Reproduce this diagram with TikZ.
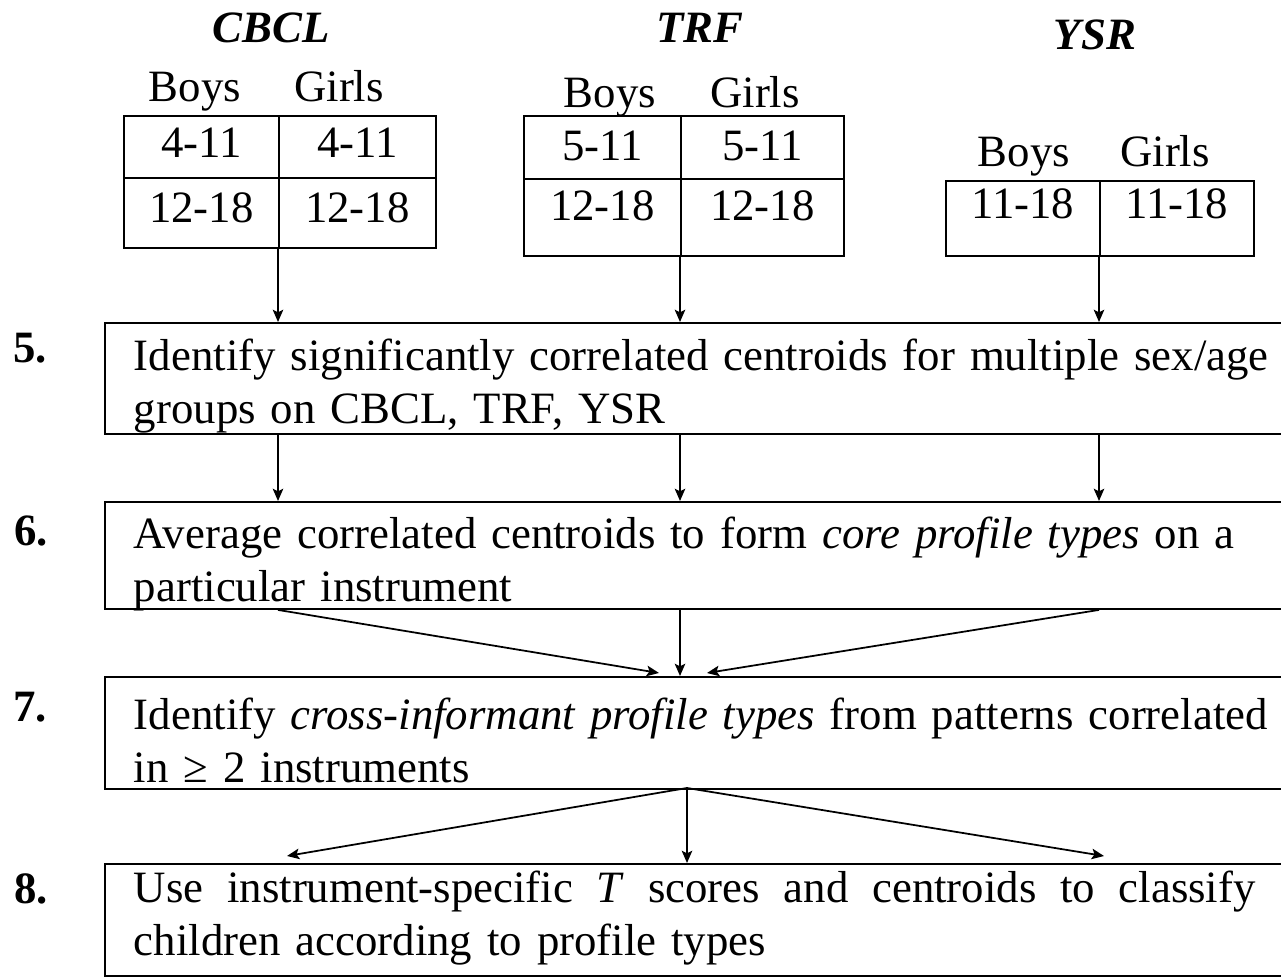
\documentclass[tikz,border=0pt]{standalone}
\usepackage{fontspec}
\setmainfont{Liberation Serif}
\usetikzlibrary{arrows.meta}

\newcommand{\stepfont}{\fontsize{25.5}{30}\selectfont}

\begin{document}
\begin{tikzpicture}[x=0.02cm,y=-0.02cm]
\tikzset{lien/.style={-{Stealth[length=7pt,width=6pt,inset=1.5pt]},line width=1pt},
instr/.style={anchor=base,inner sep=0pt,font=\stepfont\bfseries\itshape},
sexlbl/.style={anchor=base,inner sep=0pt,font=\stepfont},
cellbox/.style={draw,line width=1.1pt,inner sep=0pt,anchor=north west,minimum width=#1,font=\stepfont},
stepbox/.style={draw,line width=1.1pt,anchor=north west,inner xsep=0.58cm,inner ysep=0pt,
  text width=22.96cm,align=left,font=\stepfont},
stepnum/.style={anchor=base west,inner sep=0pt,font=\stepfont\bfseries}}
\useasboundingbox (0,0) rectangle (1281,979);
\clip (0,0) rectangle (1281,979);

% instruments
\node[instr] (cbcl) at (271,43) {CBCL};
\node[sexlbl] (cbclboys) at (195,102) {Boys};
\node[sexlbl] (cbclgirls) at (339,102) {Girls};
\node[cellbox=3.1cm,text height=0.84cm,text depth=0.4cm] (cbclA1) at (123,115) {4-11};
\node[cellbox=3.14cm,text height=0.84cm,text depth=0.4cm] (cbclA2) at (278,115) {4-11};
\node[cellbox=3.1cm,text height=0.9cm,text depth=0.5cm] (cbclB1) at (123,177) {12-18};
\node[cellbox=3.14cm,text height=0.9cm,text depth=0.5cm] (cbclB2) at (278,177) {12-18};

\node[instr] (trf) at (700,43) {TRF};
\node[sexlbl] (trfboys) at (610,108) {Boys};
\node[sexlbl] (trfgirls) at (755,108) {Girls};
\node[cellbox=3.14cm,text height=0.9cm,text depth=0.36cm] (trfA1) at (523,115) {5-11};
\node[cellbox=3.26cm,text height=0.9cm,text depth=0.36cm] (trfA2) at (680,115) {5-11};
\node[cellbox=3.14cm,text height=0.84cm,text depth=0.7cm] (trfB1) at (523,178) {12-18};
\node[cellbox=3.26cm,text height=0.84cm,text depth=0.7cm] (trfB2) at (680,178) {12-18};

\node[instr] (ysr) at (1095,50) {YSR};
\node[sexlbl] (ysrboys) at (1024,167) {Boys};
\node[sexlbl] (ysrgirls) at (1165,167) {Girls};
\node[cellbox=3.08cm,text height=0.76cm,text depth=0.74cm] (ysrB1) at (945,180) {11-18};
\node[cellbox=3.08cm,text height=0.76cm,text depth=0.74cm] (ysrB2) at (1099,180) {11-18};

% steps
\node[stepnum] (n5) at (13,363) {5.};
\node[stepbox,text height=0.96cm,text depth=1.26cm] (box5) at (104,322)
  {Identify significantly correlated centroids for multiple sex/age\\groups on CBCL, TRF, YSR};
\node[stepnum] (n6) at (14,545) {6.};
\node[stepbox,text height=0.94cm,text depth=1.2cm] (box6) at (104,501)
  {Average correlated centroids to form \textit{core profile types} on a\\particular instrument};
\node[stepnum] (n7) at (13,721) {7.};
\node[stepbox,text height=1.06cm,text depth=1.18cm] (box7) at (104,676)
  {Identify \textit{cross-informant profile types} from patterns correlated\\in ≥ 2 instruments};
\node[stepnum] (n8) at (14,903) {8.};
\node[stepbox,text height=0.78cm,text depth=1.46cm] (box8) at (104,863)
  {\hbox to 22.44cm{Use\hfill instrument-specific\hfill \textit{T}\hfill scores\hfill and\hfill centroids\hfill to\hfill classify}\\children according to profile types};

\coordinate (in7l) at (659,673);
\coordinate (in7r) at (707,673);
\coordinate (out7) at (687,788);
\coordinate (in8l) at (287,856);
\coordinate (in8r) at (1104,856);

\draw[lien] (cbclB2.south west) -- (cbclB2.south west |- box5.north);
\draw[lien] (trfB2.south west) -- (trfB2.south west |- box5.north);
\draw[lien] (ysrB2.south west) -- (ysrB2.south west |- box5.north);

\draw[lien] (box5.south -| cbclB2.south west) -- (box6.north -| cbclB2.south west);
\draw[lien] (box5.south -| trfB2.south west) -- (box6.north -| trfB2.south west);
\draw[lien] (box5.south -| ysrB2.south west) -- (box6.north -| ysrB2.south west);

\draw[lien] (box6.south -| cbclB2.south west) -- (in7l);
\draw[lien] (box6.south -| trfB2.south west) -- (box7.north -| trfB2.south west);
\draw[lien] (box6.south -| ysrB2.south west) -- (in7r);

\draw[lien] (out7) -- (in8l);
\draw[lien] (out7) -- (out7 |- box8.north);
\draw[lien] (out7) -- (in8r);

\end{tikzpicture}
\end{document}
